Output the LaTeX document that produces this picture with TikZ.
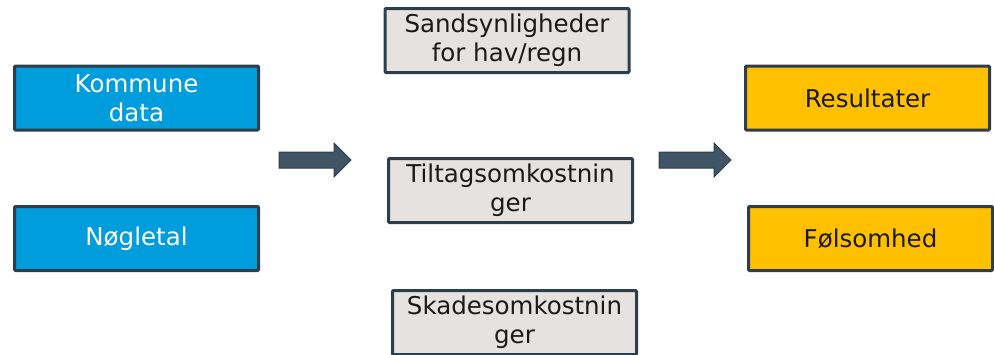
\documentclass[tikz,border=0pt]{standalone}
\usepackage{fontspec}
\setmainfont{DejaVu Sans}
\usepackage{xcolor}
\definecolor{inputblue}{HTML}{009DDC}
\definecolor{resultyellow}{HTML}{FFC000}
\definecolor{modelgrey}{HTML}{E6E2DF}
\definecolor{edgedark}{HTML}{2E3D4A}
\definecolor{arrowslate}{HTML}{3F5566}
\newcommand{\boxwid}{244pt}
\newcommand{\boxhei}{64pt}
\newcommand{\inputcolor}{inputblue}
\newcommand{\modelcolor}{modelgrey}
\newcommand{\resultcolor}{resultyellow}

\begin{document}
\begin{tikzpicture}[x=1pt, y=-1pt,
    box/.style={draw=edgedark, line width=3pt, rounded corners=1pt,
        minimum width=\boxwid, minimum height=\boxhei, inner sep=0pt,
        align=center, font=\fontsize{24.5}{29}\selectfont},
    inbox/.style={box, fill=\inputcolor, text=white},
    modelbox/.style={box, fill=\modelcolor, text=black!90},
    outbox/.style={box, fill=\resultcolor, text=black!90},
    blockarrow/.style={fill=arrowslate, draw=edgedark, line width=1pt, line join=miter}]
        \useasboundingbox (0, 0) rectangle (994, 354);
        \clip (0, 0) rectangle (994, 354);

        % input boxes
        \node[inbox] (kommune) at (136.5, 98) {Kommune\\data};
        \node[inbox] (noegletal) at (136.5, 238.5) {Nøgletal};

        % model boxes
        \node[modelbox] (sandsyn) at (507, 40.5) {Sandsynligheder\\for hav/regn};
        \node[modelbox] (tiltag) at (510.5, 190.5) {Tiltagsomkostnin\\ger};
        \node[modelbox] (skade) at (514.5, 322.5) {Skadesomkostnin\\ger};

        % output boxes
        \node[outbox] (resultat) at (867.5, 98) {Resultater};
        \node[outbox] (foelsom) at (870.5, 238.5) {Følsomhed};

        % arrows
        \foreach \ax in {279, 659}
            \filldraw[blockarrow, xshift=\ax] (0, 152) -- (55, 152) -- (55, 143) -- (72, 160)
                -- (55, 177) -- (55, 168) -- (0, 168) -- cycle;
    \end{tikzpicture}
\end{document}
